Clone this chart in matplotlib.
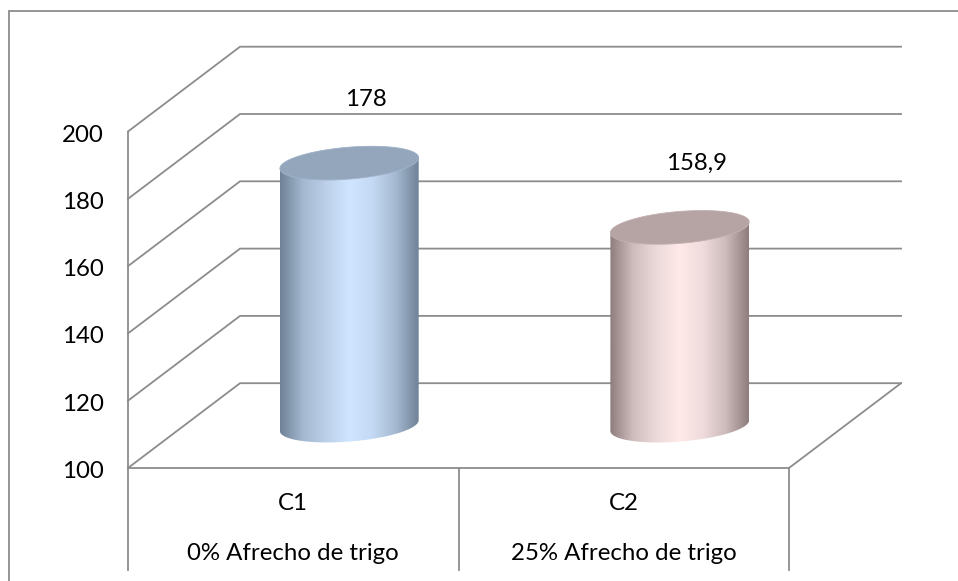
import matplotlib
matplotlib.use("Agg")
import matplotlib.pyplot as plt
import numpy as np
from matplotlib.colors import LinearSegmentedColormap
from matplotlib.lines import Line2D
from matplotlib.patches import PathPatch
from matplotlib.path import Path
from matplotlib.transforms import ScaledTranslation

plt.rcParams["font.family"] = ["Lato", "DejaVu Sans"]

# data
categories = ["C1", "C2"]
treatments = ["0% Afrecho de trigo", "25% Afrecho de trigo"]
values = [178, 158.9]
value_labels = ["178", "158,9"]
yticks = [100, 120, 140, 160, 180, 200]

GRID = "#8c8c8c"
W, H = 958, 581
FONT = 17.3

# shift of the back wall from the front plane, in data units
DEPTH_X = 0.339
DEPTH_Y = 25.2
BAR_HALF_W = 0.21


def ellipse(xc, yc, t):
    # sheared ellipse used for the cylinder caps
    return xc + BAR_HALF_W * np.cos(t), yc + 1.6 * np.cos(t) + 4.75 * np.sin(t)


def draw_cylinder(ax, xc, value, cmap, cap_color, cap_edge):
    # cylinders stand halfway into the box depth
    y0 = 100 + DEPTH_Y / 2
    y1 = value + DEPTH_Y / 2
    t_low = np.linspace(0, -np.pi, 80)
    t_up = np.linspace(np.pi, 0, 80)
    xa, ya = ellipse(xc, y0, t_low)
    xb, yb = ellipse(xc, y1, t_up)
    verts = np.column_stack([np.r_[xa, xb], np.r_[ya, yb]])
    body = PathPatch(Path(np.vstack([verts, verts[0]])), fc="none", ec="none")
    ax.add_patch(body)
    grad = np.linspace(0, 1, 256).reshape(1, -1)
    im = ax.imshow(grad, cmap=cmap, aspect="auto", interpolation="bilinear",
                   extent=[xc - BAR_HALF_W, xc + BAR_HALF_W, y0 - 6, y1 + 6],
                   zorder=3)
    im.set_clip_path(body)

    t = np.linspace(0, 2 * np.pi, 160)
    cx, cy = ellipse(xc, y1, t)
    cap = PathPatch(Path(np.column_stack([cx, cy])), fc=cap_color, ec=cap_edge,
                    lw=0.6, zorder=4)
    ax.add_patch(cap)


fig = plt.figure(figsize=(W / 100, H / 100), dpi=100)

# outer chart border, only top and left fall inside the image
fig.add_artist(Line2D([8.5 / W, 8.5 / W, 1], [0, 1 - 11 / H, 1 - 11 / H],
                      color=GRID, lw=1.3, transform=fig.transFigure,
                      solid_joinstyle="miter"))

# axes sit on the front plane of the 3D box
ax = fig.add_axes([128 / W, 1 - 468 / H, 661 / W, 336.5 / H])
ax.set_xlim(0, 2)
ax.set_ylim(100, 200)
ax.patch.set_visible(False)
for s in ax.spines.values():
    s.set_visible(False)

# back wall gridlines and side wall diagonals
for v in yticks:
    ax.plot([0, DEPTH_X, 2 + DEPTH_X], [v, v + DEPTH_Y, v + DEPTH_Y],
            color=GRID, lw=1.3, clip_on=False, zorder=1, solid_joinstyle="miter")

# floor and left edge
ax.plot([0, 2, 2 + DEPTH_X], [100, 100, 100 + DEPTH_Y], color=GRID, lw=1.3,
        clip_on=False, zorder=1)
ax.plot([0, 0], [100, 200], color=GRID, lw=1.3, clip_on=False, zorder=1)

ax.set_yticks(yticks)
ax.tick_params(axis="y", length=0, pad=17.5, labelsize=FONT, labelcolor="black")
ax.set_xticks([])
# nudge the value labels slightly below their tick height
nudge = ScaledTranslation(0, -1.5 / 100, fig.dpi_scale_trans)
for lab in ax.get_yticklabels():
    lab.set_transform(lab.get_transform() + nudge)

# category dividers below the floor
trans = ax.get_xaxis_transform()
for x in [0, 1, 2]:
    ax.plot([x, x], [0, -102 / 336.5], color=GRID, lw=1.3, transform=trans,
            clip_on=False)

for i, (c, t) in enumerate(zip(categories, treatments)):
    ax.text(i + 0.5, -36 / 336.5, c, transform=trans, ha="center", va="center",
            fontsize=FONT)
    ax.text(i + 0.5, -85 / 336.5, t, transform=trans, ha="center", va="center",
            fontsize=FONT)

blue = LinearSegmentedColormap.from_list(
    "blue", ["#6f8296", "#a4b8d0", "#bcd0ea", "#d0e5ff", "#c4d9f3", "#a5b9d1", "#6f8296"])
pink = LinearSegmentedColormap.from_list(
    "pink", ["#8f7d7d", "#cfbcbc", "#ecd9d9", "#ffe9e9", "#f0dcdc", "#cdbaba", "#8f7d7d"])

centers = [0.5 + DEPTH_X / 2, 1.5 + DEPTH_X / 2]
draw_cylinder(ax, centers[0], values[0], blue, "#94a6bc", "#a2b4ca")
draw_cylinder(ax, centers[1], values[1], pink, "#b6a3a3", "#c4b2b2")

for xc, v, lab in zip(centers, values, value_labels):
    ax.text(xc + 0.05, v + 31.5, lab, ha="center", va="center", fontsize=FONT,
            zorder=5, clip_on=False)

fig.savefig("out.png", dpi=100, facecolor="w")
plt.close()
